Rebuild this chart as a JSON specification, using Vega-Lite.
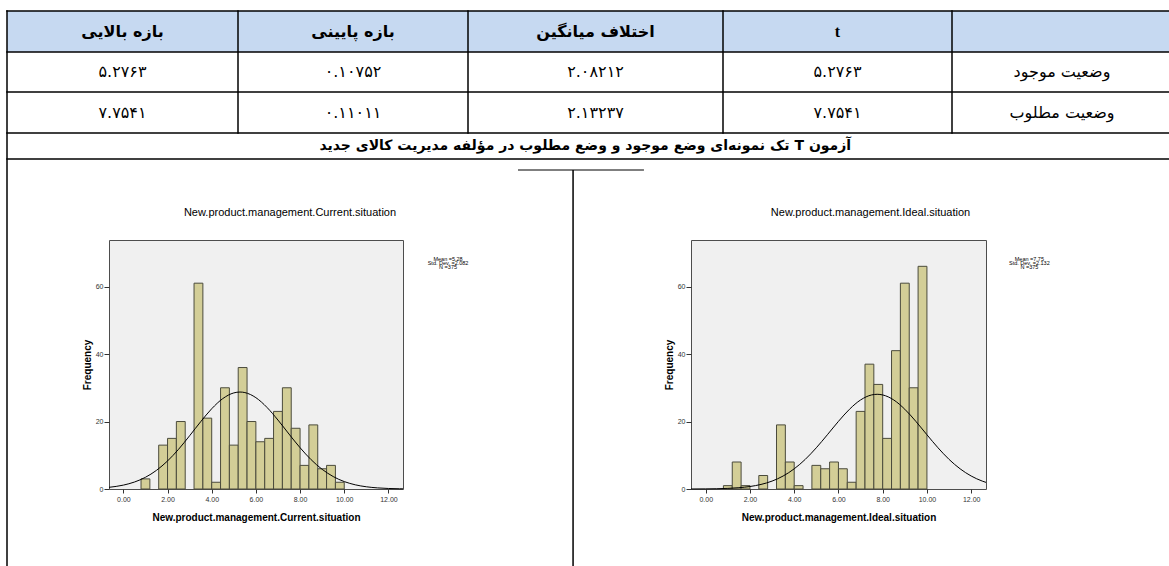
{
  "$schema": "https://vega.github.io/schema/vega-lite/v6.json",
  "padding": {"left": 5, "top": 9, "right": 0, "bottom": 0},
  "bounds": "flush",
  "spacing": 81,
  "config": {"view": {"stroke": null}, "concat": {"spacing": 0}},
  "datasets": {
    "header": [
      {"c": 0, "t": "بازه بالایی"},
      {"c": 1, "t": "بازه پایینی"},
      {"c": 2, "t": "اختلاف میانگین"},
      {"c": 3, "t": "t"}
    ],
    "body": [
      {"r": 1, "c": 0, "t": "۵.۲۷۶۳"},
      {"r": 1, "c": 1, "t": "۰.۱۰۷۵۲"},
      {"r": 1, "c": 2, "t": "۲.۰۸۲۱۲"},
      {"r": 1, "c": 3, "t": "۵.۲۷۶۳"},
      {"r": 1, "c": 4, "t": "وضعیت موجود"},
      {"r": 2, "c": 0, "t": "۷.۷۵۴۱"},
      {"r": 2, "c": 1, "t": "۰.۱۱۰۱۱"},
      {"r": 2, "c": 2, "t": "۲.۱۳۲۳۷"},
      {"r": 2, "c": 3, "t": "۷.۷۵۴۱"},
      {"r": 2, "c": 4, "t": "وضعیت مطلوب"}
    ],
    "bars": [
      {"panel": "current", "start": 0.8, "end": 1.2, "count": 3},
      {"panel": "current", "start": 1.6, "end": 2.0, "count": 13},
      {"panel": "current", "start": 2.0, "end": 2.4, "count": 15},
      {"panel": "current", "start": 2.4, "end": 2.8, "count": 20},
      {"panel": "current", "start": 3.2, "end": 3.6, "count": 61},
      {"panel": "current", "start": 3.6, "end": 4.0, "count": 21},
      {"panel": "current", "start": 4.0, "end": 4.4, "count": 2},
      {"panel": "current", "start": 4.4, "end": 4.8, "count": 30},
      {"panel": "current", "start": 4.8, "end": 5.2, "count": 13},
      {"panel": "current", "start": 5.2, "end": 5.6, "count": 36},
      {"panel": "current", "start": 5.6, "end": 6.0, "count": 20},
      {"panel": "current", "start": 6.0, "end": 6.4, "count": 14},
      {"panel": "current", "start": 6.4, "end": 6.8, "count": 15},
      {"panel": "current", "start": 6.8, "end": 7.2, "count": 23},
      {"panel": "current", "start": 7.2, "end": 7.6, "count": 30},
      {"panel": "current", "start": 7.6, "end": 8.0, "count": 18},
      {"panel": "current", "start": 8.0, "end": 8.4, "count": 7},
      {"panel": "current", "start": 8.4, "end": 8.8, "count": 19},
      {"panel": "current", "start": 8.8, "end": 9.2, "count": 6},
      {"panel": "current", "start": 9.2, "end": 9.6, "count": 7},
      {"panel": "current", "start": 9.6, "end": 10.0, "count": 2},
      {"panel": "ideal", "start": 0.8, "end": 1.2, "count": 1},
      {"panel": "ideal", "start": 1.2, "end": 1.6, "count": 8},
      {"panel": "ideal", "start": 1.6, "end": 2.0, "count": 1},
      {"panel": "ideal", "start": 2.4, "end": 2.8, "count": 4},
      {"panel": "ideal", "start": 3.2, "end": 3.6, "count": 19},
      {"panel": "ideal", "start": 3.6, "end": 4.0, "count": 8},
      {"panel": "ideal", "start": 4.0, "end": 4.4, "count": 1},
      {"panel": "ideal", "start": 4.8, "end": 5.2, "count": 7},
      {"panel": "ideal", "start": 5.2, "end": 5.6, "count": 6},
      {"panel": "ideal", "start": 5.6, "end": 6.0, "count": 8},
      {"panel": "ideal", "start": 6.0, "end": 6.4, "count": 6},
      {"panel": "ideal", "start": 6.4, "end": 6.8, "count": 2},
      {"panel": "ideal", "start": 6.8, "end": 7.2, "count": 23},
      {"panel": "ideal", "start": 7.2, "end": 7.6, "count": 37},
      {"panel": "ideal", "start": 7.6, "end": 8.0, "count": 31},
      {"panel": "ideal", "start": 8.0, "end": 8.4, "count": 15},
      {"panel": "ideal", "start": 8.4, "end": 8.8, "count": 41},
      {"panel": "ideal", "start": 8.8, "end": 9.2, "count": 61},
      {"panel": "ideal", "start": 9.2, "end": 9.6, "count": 30},
      {"panel": "ideal", "start": 9.6, "end": 10.0, "count": 66}
    ],
    "curve": [
      {"panel": "current", "x": -0.65, "density": 0.498},
      {"panel": "current", "x": 0, "density": 1.153},
      {"panel": "current", "x": 0.5, "density": 2.06},
      {"panel": "current", "x": 1.0, "density": 3.47},
      {"panel": "current", "x": 1.5, "density": 5.53},
      {"panel": "current", "x": 2.0, "density": 8.31},
      {"panel": "current", "x": 2.5, "density": 11.78},
      {"panel": "current", "x": 3.0, "density": 15.78},
      {"panel": "current", "x": 3.5, "density": 19.94},
      {"panel": "current", "x": 4.0, "density": 23.79},
      {"panel": "current", "x": 4.5, "density": 26.79},
      {"panel": "current", "x": 5.0, "density": 28.48},
      {"panel": "current", "x": 5.28, "density": 28.74},
      {"panel": "current", "x": 5.5, "density": 28.58},
      {"panel": "current", "x": 6.0, "density": 27.07},
      {"panel": "current", "x": 6.5, "density": 24.2},
      {"panel": "current", "x": 7.0, "density": 20.43},
      {"panel": "current", "x": 7.5, "density": 16.28},
      {"panel": "current", "x": 8.0, "density": 12.24},
      {"panel": "current", "x": 8.5, "density": 8.69},
      {"panel": "current", "x": 9.0, "density": 5.83},
      {"panel": "current", "x": 9.5, "density": 3.69},
      {"panel": "current", "x": 10.0, "density": 2.2},
      {"panel": "current", "x": 10.5, "density": 1.24},
      {"panel": "current", "x": 11.0, "density": 0.66},
      {"panel": "current", "x": 11.5, "density": 0.331},
      {"panel": "current", "x": 12.0, "density": 0.157},
      {"panel": "current", "x": 12.5, "density": 0.07},
      {"panel": "current", "x": 12.66, "density": 0.054},
      {"panel": "ideal", "x": -0.665, "density": 0.012},
      {"panel": "ideal", "x": 0, "density": 0.038},
      {"panel": "ideal", "x": 0.5, "density": 0.087},
      {"panel": "ideal", "x": 1.0, "density": 0.187},
      {"panel": "ideal", "x": 1.5, "density": 0.382},
      {"panel": "ideal", "x": 2.0, "density": 0.739},
      {"panel": "ideal", "x": 2.5, "density": 1.354},
      {"panel": "ideal", "x": 3.0, "density": 2.346},
      {"panel": "ideal", "x": 3.5, "density": 3.85},
      {"panel": "ideal", "x": 4.0, "density": 5.98},
      {"panel": "ideal", "x": 4.5, "density": 8.78},
      {"panel": "ideal", "x": 5.0, "density": 12.22},
      {"panel": "ideal", "x": 5.5, "density": 16.08},
      {"panel": "ideal", "x": 6.0, "density": 20.04},
      {"panel": "ideal", "x": 6.5, "density": 23.64},
      {"panel": "ideal", "x": 7.0, "density": 26.39},
      {"panel": "ideal", "x": 7.5, "density": 27.88},
      {"panel": "ideal", "x": 7.75, "density": 28.07},
      {"panel": "ideal", "x": 8.0, "density": 27.88},
      {"panel": "ideal", "x": 8.5, "density": 26.39},
      {"panel": "ideal", "x": 9.0, "density": 23.64},
      {"panel": "ideal", "x": 9.5, "density": 20.04},
      {"panel": "ideal", "x": 10.0, "density": 16.08},
      {"panel": "ideal", "x": 10.5, "density": 12.22},
      {"panel": "ideal", "x": 11.0, "density": 8.78},
      {"panel": "ideal", "x": 11.5, "density": 5.98},
      {"panel": "ideal", "x": 12.0, "density": 3.85},
      {"panel": "ideal", "x": 12.5, "density": 2.346},
      {"panel": "ideal", "x": 12.67, "density": 1.96}
    ]
  },
  "vconcat": [
    {
      "width": 1165,
      "height": 148,
      "layer": [
        {
          "data": {"values": [{}]},
          "mark": {"type": "rect", "fill": "#c6d9f1"},
          "encoding": {
            "x": {"datum": -0.5, "type": "quantitative", "axis": null, "scale": {"domain": [-0.5, 0.5, 1.5, 2.5, 3.5, 4.5], "range": [0, 231, 461, 716, 945, 1165], "nice": false, "zero": false}},
            "x2": {"datum": 4.5},
            "y": {"datum": -0.5, "type": "quantitative", "axis": null, "scale": {"domain": [-0.5, 0.5, 1.5, 2.5, 3.5], "range": [0, 41, 81, 122, 148], "nice": false, "zero": false}},
            "y2": {"datum": 0.5}
          }
        },
        {
          "data": {"values": [{}]},
          "mark": {"type": "rule", "color": "#000", "strokeWidth": 1.5, "strokeCap": "square"},
          "encoding": {"y": {"datum": -0.5, "type": "quantitative"}}
        },
        {
          "data": {"values": [{}]},
          "mark": {"type": "rule", "color": "#000", "strokeWidth": 1.5, "strokeCap": "square"},
          "encoding": {"y": {"datum": 0.5, "type": "quantitative"}}
        },
        {
          "data": {"values": [{}]},
          "mark": {"type": "rule", "color": "#000", "strokeWidth": 1.5, "strokeCap": "square"},
          "encoding": {"y": {"datum": 1.5, "type": "quantitative"}}
        },
        {
          "data": {"values": [{}]},
          "mark": {"type": "rule", "color": "#000", "strokeWidth": 1.5, "strokeCap": "square"},
          "encoding": {"y": {"datum": 2.5, "type": "quantitative"}}
        },
        {
          "data": {"values": [{}]},
          "mark": {"type": "rule", "color": "#000", "strokeWidth": 1.5, "strokeCap": "square"},
          "encoding": {"y": {"datum": 3.5, "type": "quantitative"}}
        },
        {
          "data": {"values": [{}]},
          "mark": {"type": "rule", "color": "#000", "strokeWidth": 1.5, "strokeCap": "square"},
          "encoding": {"x": {"datum": 0.5, "type": "quantitative"}, "y": {"datum": -0.5, "type": "quantitative"}, "y2": {"datum": 2.5}}
        },
        {
          "data": {"values": [{}]},
          "mark": {"type": "rule", "color": "#000", "strokeWidth": 1.5, "strokeCap": "square"},
          "encoding": {"x": {"datum": 1.5, "type": "quantitative"}, "y": {"datum": -0.5, "type": "quantitative"}, "y2": {"datum": 2.5}}
        },
        {
          "data": {"values": [{}]},
          "mark": {"type": "rule", "color": "#000", "strokeWidth": 1.5, "strokeCap": "square"},
          "encoding": {"x": {"datum": 2.5, "type": "quantitative"}, "y": {"datum": -0.5, "type": "quantitative"}, "y2": {"datum": 2.5}}
        },
        {
          "data": {"values": [{}]},
          "mark": {"type": "rule", "color": "#000", "strokeWidth": 1.5, "strokeCap": "square"},
          "encoding": {"x": {"datum": 3.5, "type": "quantitative"}, "y": {"datum": -0.5, "type": "quantitative"}, "y2": {"datum": 2.5}}
        },
        {
          "data": {"values": [{}]},
          "mark": {"type": "rule", "color": "#000", "strokeWidth": 1.5, "strokeCap": "square"},
          "encoding": {"x": {"datum": -0.5, "type": "quantitative"}, "y": {"datum": -0.5, "type": "quantitative"}, "y2": {"datum": 19.15}}
        },
        {
          "data": {"values": [{}]},
          "mark": {"type": "rule", "color": "#000", "strokeWidth": 1.5},
          "encoding": {"x": {"datum": 1.912, "type": "quantitative"}, "y": {"datum": 3.923, "type": "quantitative"}, "y2": {"datum": 19.15}}
        },
        {
          "data": {"values": [{}]},
          "mark": {"type": "rule", "color": "#000", "strokeWidth": 1.2},
          "encoding": {"x": {"datum": 1.696, "type": "quantitative"}, "x2": {"datum": 2.19}, "y": {"datum": 3.923, "type": "quantitative"}}
        },
        {
          "data": {"name": "header"},
          "transform": [{"filter": "datum.c != 3"}],
          "mark": {"type": "text", "font": "DejaVu Sans", "fontSize": 16, "fontWeight": "bold", "align": "center", "baseline": "middle", "color": "#000"},
          "encoding": {
            "x": {"field": "c", "type": "quantitative"},
            "y": {"datum": 0, "type": "quantitative"},
            "text": {"field": "t"}
          }
        },
        {
          "data": {"name": "header"},
          "transform": [{"filter": "datum.c == 3"}],
          "mark": {"type": "text", "font": "Liberation Serif", "fontSize": 16, "fontWeight": "bold", "align": "center", "baseline": "middle", "color": "#000"},
          "encoding": {
            "x": {"field": "c", "type": "quantitative"},
            "y": {"datum": 0, "type": "quantitative"},
            "text": {"field": "t"}
          }
        },
        {
          "data": {"name": "body"},
          "mark": {"type": "text", "font": "DejaVu Sans", "fontSize": 16, "align": "center", "baseline": "middle", "color": "#000"},
          "encoding": {
            "x": {"field": "c", "type": "quantitative"},
            "y": {"field": "r", "type": "quantitative"},
            "text": {"field": "t"}
          }
        },
        {
          "data": {"values": [{}]},
          "mark": {"type": "text", "font": "DejaVu Sans", "fontSize": 14, "fontWeight": "bold", "align": "center", "baseline": "middle", "color": "#000"},
          "encoding": {
            "x": {"datum": 1.96, "type": "quantitative"},
            "y": {"datum": 3, "type": "quantitative"},
            "text": {"value": "\u202bآزمون T تک نمونه‌ای وضع موجود و وضع مطلوب در مؤلفه مدیریت کالای جدید\u202c"}
          }
        }
      ]
    },
    {
      "spacing": 0,
      "bounds": "flush",
      "hconcat": [
        {
          "width": 102,
          "height": 249,
          "data": {"values": [{}]},
          "mark": {"type": "point", "opacity": 0},
          "encoding": {}
        },
        {
          "width": 294,
          "height": 249,
          "view": {"fill": "#f0f0f0", "stroke": "#4d4d4d", "strokeWidth": 1},
          "title": {"text": "New.product.management.Current.situation", "font": "Liberation Sans", "fontSize": 11, "fontWeight": "normal", "color": "#000", "anchor": "middle", "frame": "group", "dx": 34, "offset": 11, "baseline": "bottom"},
          "layer": [
            {
              "data": {"name": "bars"},
              "transform": [{"filter": "datum.panel == 'current'"}],
              "mark": {"type": "rect", "fill": "#d3ce97", "stroke": "#4b4b3c", "strokeWidth": 1},
              "encoding": {
                "x": {"field": "start", "type": "quantitative", "scale": {"domain": [-0.65, 12.66], "nice": false, "zero": false},
                  "axis": {"values": [0, 2, 4, 6, 8, 10, 12], "format": ".2f", "domain": false, "grid": false, "tickSize": 4, "tickColor": "#333", "labelFont": "Liberation Sans", "labelFontSize": 7, "labelColor": "#333", "labelPadding": 2, "labelFlush": false, "title": "New.product.management.Current.situation", "titleFont": "Liberation Sans", "titleFontSize": 10, "titleFontWeight": "bold", "titleColor": "#000", "titlePadding": 10}},
                "x2": {"field": "end"},
                "y": {"field": "count", "type": "quantitative", "scale": {"domain": [0, 73.8], "nice": false, "zero": false},
                  "axis": {"values": [0, 20, 40, 60], "domain": false, "grid": false, "tickSize": 5, "tickColor": "#333", "labelFont": "Liberation Sans", "labelFontSize": 7, "labelColor": "#333", "labelPadding": 1, "title": "Frequency", "titleFont": "Liberation Sans", "titleFontSize": 10, "titleFontWeight": "bold", "titleColor": "#000", "titlePadding": 3}},
                "y2": {"datum": 0}
              }
            },
            {
              "data": {"name": "curve"},
              "transform": [{"filter": "datum.panel == 'current'"}],
              "mark": {"type": "line", "color": "#000", "strokeWidth": 1, "interpolate": "monotone"},
              "encoding": {
                "x": {"field": "x", "type": "quantitative"},
                "y": {"field": "density", "type": "quantitative"}
              }
            },
            {
              "data": {"values": [{}]},
              "mark": {"type": "text", "font": "Liberation Sans", "fontSize": 5.5, "lineHeight": 4.4, "align": "center", "baseline": "middle", "color": "#000"},
              "encoding": {
                "x": {"datum": 14.7, "type": "quantitative"},
                "y": {"datum": 68.3, "type": "quantitative"},
                "text": {"value": ["Mean =5.28", "Std. Dev. =2.082", "N =375"]}
              }
            }
          ]
        },
        {
          "width": 288,
          "height": 249,
          "data": {"values": [{}]},
          "mark": {"type": "point", "opacity": 0},
          "encoding": {}
        },
        {
          "width": 295,
          "height": 249,
          "view": {"fill": "#f0f0f0", "stroke": "#4d4d4d", "strokeWidth": 1},
          "title": {"text": "New.product.management.Ideal.situation", "font": "Liberation Sans", "fontSize": 11, "fontWeight": "normal", "color": "#000", "anchor": "middle", "frame": "group", "dx": 32, "offset": 11, "baseline": "bottom"},
          "layer": [
            {
              "data": {"name": "bars"},
              "transform": [{"filter": "datum.panel == 'ideal'"}],
              "mark": {"type": "rect", "fill": "#d3ce97", "stroke": "#4b4b3c", "strokeWidth": 1},
              "encoding": {
                "x": {"field": "start", "type": "quantitative", "scale": {"domain": [-0.665, 12.67], "nice": false, "zero": false},
                  "axis": {"values": [0, 2, 4, 6, 8, 10, 12], "format": ".2f", "domain": false, "grid": false, "tickSize": 4, "tickColor": "#333", "labelFont": "Liberation Sans", "labelFontSize": 7, "labelColor": "#333", "labelPadding": 2, "labelFlush": false, "title": "New.product.management.Ideal.situation", "titleFont": "Liberation Sans", "titleFontSize": 10, "titleFontWeight": "bold", "titleColor": "#000", "titlePadding": 10}},
                "x2": {"field": "end"},
                "y": {"field": "count", "type": "quantitative", "scale": {"domain": [0, 73.8], "nice": false, "zero": false},
                  "axis": {"values": [0, 20, 40, 60], "domain": false, "grid": false, "tickSize": 5, "tickColor": "#333", "labelFont": "Liberation Sans", "labelFontSize": 7, "labelColor": "#333", "labelPadding": 1, "title": "Frequency", "titleFont": "Liberation Sans", "titleFontSize": 10, "titleFontWeight": "bold", "titleColor": "#000", "titlePadding": 3}},
                "y2": {"datum": 0}
              }
            },
            {
              "data": {"name": "curve"},
              "transform": [{"filter": "datum.panel == 'ideal'"}],
              "mark": {"type": "line", "color": "#000", "strokeWidth": 1, "interpolate": "monotone"},
              "encoding": {
                "x": {"field": "x", "type": "quantitative"},
                "y": {"field": "density", "type": "quantitative"}
              }
            },
            {
              "data": {"values": [{}]},
              "mark": {"type": "text", "font": "Liberation Sans", "fontSize": 5.5, "lineHeight": 4.4, "align": "center", "baseline": "middle", "color": "#000"},
              "encoding": {
                "x": {"datum": 14.63, "type": "quantitative"},
                "y": {"datum": 68.3, "type": "quantitative"},
                "text": {"value": ["Mean =7.75", "Std. Dev. =2.132", "N =375"]}
              }
            }
          ]
        }
      ]
    }
  ]
}
